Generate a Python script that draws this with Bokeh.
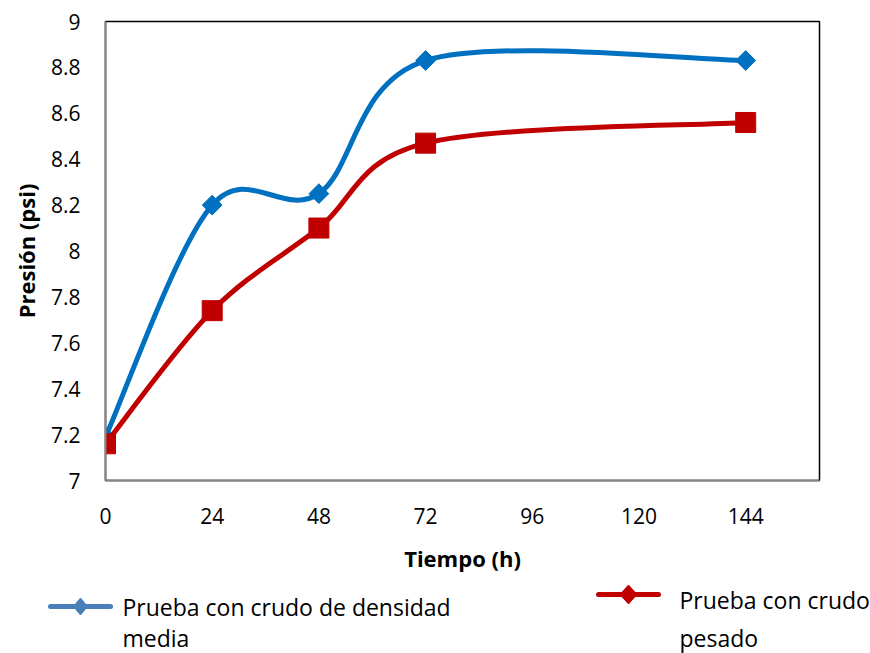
import math
from bokeh.plotting import figure
from bokeh.layouts import column, row
from bokeh.models import Range1d, FixedTicker, Label
from bokeh.embed import file_html
from bokeh.resources import INLINE

# ---- data ----
horas = [0, 24, 48, 72, 144]
media = [7.19, 8.20, 8.25, 8.83, 8.83]
pesado = [7.16, 7.74, 8.10, 8.47, 8.56]
x_ticks = [0, 24, 48, 72, 96, 120, 144]
y_ticks = [7, 7.2, 7.4, 7.6, 7.8, 8, 8.2, 8.4, 8.6, 8.8, 9]
leyenda_media = ["Prueba con crudo de densidad", "media"]
leyenda_pesado = ["Prueba con crudo", "pesado"]

BLUE = "#0070C0"
RED = "#C00000"
LEG_BLUE = "#4A7EBB"
FONT = "Open Sans"
W = 870

p = figure(width=W, height=575, output_backend="svg", toolbar_location=None,
           x_range=Range1d(0, 160.6), y_range=Range1d(7, 9),
           min_border_left=105, min_border_right=W - 819, min_border_top=21, min_border_bottom=95)
p.background_fill_color = "white"
p.border_fill_color = "white"
p.outline_line_color = "#000000"
p.outline_line_width = 1.5
p.xgrid.visible = False
p.ygrid.visible = False

for ax in (p.xaxis[0], p.yaxis[0]):
    ax.axis_line_color = "#868686"
    ax.axis_line_width = 2
    ax.major_tick_line_color = None
    ax.minor_tick_line_color = None
    ax.major_tick_out = 0
    ax.major_tick_in = 0
    ax.major_label_text_font = FONT
    ax.major_label_text_font_size = "21px"
    ax.major_label_text_color = "#000000"
    ax.axis_label_text_font = FONT
    ax.axis_label_text_font_size = "22px"
    ax.axis_label_text_font_style = "bold"
    ax.axis_label_text_color = "#000000"

p.xaxis.ticker = FixedTicker(ticks=x_ticks)
p.yaxis.ticker = FixedTicker(ticks=y_ticks)
p.yaxis.major_label_overrides = {7: "7", 8: "8", 9: "9"}
p.xaxis.major_label_standoff = 27
p.yaxis.major_label_standoff = 25
p.xaxis.axis_label = "Tiempo (h)"
p.yaxis.axis_label = "Presión (psi)"
p.xaxis.axis_label_standoff = 16
p.yaxis.axis_label_standoff = 7


def smooth(xs, ys):
    """Excel-style smoothed line: cubic Bezier segments through the points."""
    n = len(xs)
    seg = dict(x0=[], y0=[], x1=[], y1=[], cx0=[], cy0=[], cx1=[], cy1=[])
    for i in range(n - 1):
        i0 = max(i - 1, 0)
        i3 = min(i + 2, n - 1)
        seg["x0"].append(xs[i]); seg["y0"].append(ys[i])
        seg["x1"].append(xs[i + 1]); seg["y1"].append(ys[i + 1])
        seg["cx0"].append(xs[i] + (xs[i + 1] - xs[i0]) / 6)
        seg["cy0"].append(ys[i] + (ys[i + 1] - ys[i0]) / 6)
        seg["cx1"].append(xs[i + 1] - (xs[i3] - xs[i]) / 6)
        seg["cy1"].append(ys[i + 1] - (ys[i3] - ys[i]) / 6)
    return seg


sb = smooth(horas, media)
p.bezier(x0=sb["x0"], y0=sb["y0"], x1=sb["x1"], y1=sb["y1"],
         cx0=sb["cx0"], cy0=sb["cy0"], cx1=sb["cx1"], cy1=sb["cy1"],
         line_color=BLUE, line_width=5, line_cap="round")
p.scatter(horas, media, marker="square", angle=math.pi / 4, size=14,
          fill_color=BLUE, line_color=BLUE)

sr = smooth(horas, pesado)
p.bezier(x0=sr["x0"], y0=sr["y0"], x1=sr["x1"], y1=sr["y1"],
         cx0=sr["cx0"], cy0=sr["cy0"], cx1=sr["cx1"], cy1=sr["cy1"],
         line_color=RED, line_width=5, line_cap="round")
p.scatter(horas, pesado, marker="square", size=20, fill_color=RED, line_color=RED)

# ---- legend strip below the chart (pixel coordinates, no axes) ----
LH = 78
lg = figure(width=W, height=LH, output_backend="svg", toolbar_location=None,
            x_range=Range1d(0, W), y_range=Range1d(0, LH),
            x_axis_location=None, y_axis_location=None,
            min_border=0, min_border_left=0, min_border_right=0,
            min_border_top=0, min_border_bottom=0, outline_line_color=None)
lg.grid.visible = False
lg.background_fill_color = "white"
lg.border_fill_color = "white"


def legend_item(x, y, color, lines, tx, ty, dy, hw, hh):
    lg.line([x, x + 60], [y, y], line_color=color, line_width=5, line_cap="round")
    cx = x + 30
    lg.patch([cx - hw, cx, cx + hw, cx], [y, y + hh, y, y - hh],
             fill_color=color, line_color=color)
    for k, t in enumerate(lines):
        lg.add_layout(Label(x=tx, y=ty - dy * k, text=t, text_font=FONT,
                            text_font_size="23px", text_color="#000000",
                            text_baseline="alphabetic"))


legend_item(50, 47, LEG_BLUE, leyenda_media, 122, 47, 31, 7, 8.5)
legend_item(598, 59, RED, leyenda_pesado, 679, 54, 38, 8.5, 9.5)

layout = column(row(p), row(lg), spacing=0)

with open("out.html", "w") as f:
    f.write(file_html(layout, INLINE))
